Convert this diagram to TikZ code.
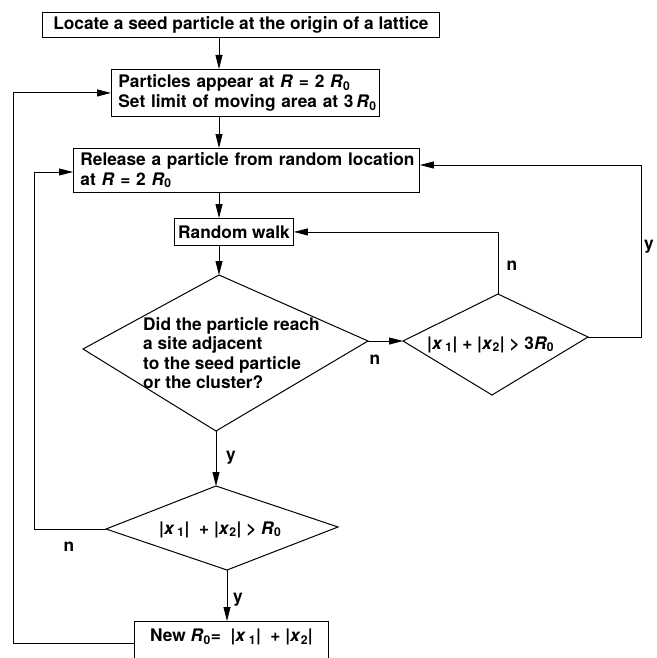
\documentclass[tikz,border=0pt]{standalone}
\usepackage{fontspec}
\setmainfont{TeX Gyre Heros}
\usetikzlibrary{arrows.meta}
\begin{document}
\begin{tikzpicture}[x=1pt,y=-1pt,
  every node/.style={font=\fontsize{17.3}{19.5}\selectfont\bfseries, inner sep=0pt},
  box/.style={draw, line width=0.9pt, anchor=north west},
  dia/.style={draw, line width=1pt, line join=miter},
  conn/.style={line width=0.9pt},
  arr/.style={conn, -{Triangle[length=14pt,width=7pt]}},
  lbl/.style={inner sep=0pt}]
\clip (0,0) rectangle (656,658);
\fill[white] (0,0) rectangle (656,658);
% boxes
\node[box, minimum width=397pt, minimum height=25pt] (b1) at (42,12)
  {Locate a seed particle at the origin of a lattice};
\node[box, minimum width=268pt, minimum height=47pt, text width=254pt, align=left] (b2) at (111,69)
  {\mbox{Particles appear at \textit{R} = 2 \textit{R}\textsubscript{0}}\\
   \mbox{Set limit of moving area at 3\,\textit{R}\textsubscript{0}}};
\node[box, minimum width=346pt, minimum height=44pt, text width=332pt, align=left] (b3) at (73,148)
  {\mbox{Release a particle from random location}\\
   \mbox{at \textit{R} = 2 \textit{R}\textsubscript{0}}};
\node[box, minimum width=119pt, minimum height=27pt] (rw) at (174,218) {Random walk};
\node[box, minimum width=194pt, text height=15pt, text depth=25pt, inner ysep=5pt] (new) at (134,621)
  {New \textit{R}\textsubscript{0}= \ |\textit{x}\,\textsubscript{1}|\ \ + |\textit{x}\textsubscript{2}|};
% diamond 1
\coordinate (d1t) at (219,275); \coordinate (d1r) at (368,341);
\coordinate (d1b) at (216,431); \coordinate (d1l) at (83,349);
\draw[dia] (d1t) -- (d1r) -- (d1b) -- (d1l) -- cycle;
\node[align=left, anchor=north west] (d1) at (143,317)
  {Did the particle reach\\a site adjacent\\to the seed particle\\or the cluster?};
% diamond 2
\coordinate (d2t) at (498,294); \coordinate (d2r) at (588,337);
\coordinate (d2b) at (492,395); \coordinate (d2l) at (403,341);
\draw[dia] (d2t) -- (d2r) -- (d2b) -- (d2l) -- cycle;
\node[anchor=base west] (d2) at (427,349)
  {|\textit{x}\,\textsubscript{1}|\ + |\textit{x}\textsubscript{2}| > 3\textit{R}\textsubscript{0}};
% diamond 3
\coordinate (d3t) at (216,486); \coordinate (d3r) at (338,527);
\coordinate (d3b) at (227,570); \coordinate (d3l) at (106,529);
\draw[dia] (d3t) -- (d3r) -- (d3b) -- (d3l) -- cycle;
\node[anchor=base west] (d3) at (159,534)
  {|\textit{x}\,\textsubscript{1}|\ \ + |\textit{x}\textsubscript{2}| > \textit{R}\textsubscript{0}};
% helper coordinates
\coordinate (ry) at (641,165);
\coordinate (lx) at (34,172);
\coordinate (oy) at (13,643);
% connectors
\draw[arr] (b1.south -| d1t) -- (b2.north -| d1t);
\draw[arr] (b2.south -| d1t) -- (b3.north -| d1t);
\draw[arr] (b3.south -| d1t) -- (rw.north -| d1t);
\draw[arr] (rw.south -| d1t) -- (d1t);
\draw[arr] (d1r) -- (d2l);
\draw[arr] (d2t) |- (rw.east);
\draw[arr] (d2r) -| (ry) -- (ry -| b3.east);
\draw[arr] (d1b) -- (d3t);
\draw[arr] (d3l) -| (lx) -- (lx -| b3.west);
\draw[arr] (d3b) -- (new.north -| d3b);
\draw[arr] (oy -| new.west) -- (oy) |- (b2.west);
% labels
\node[lbl] (ln1) at (375,360) {n};
\node[lbl] (ln2) at (512,266) {n};
\node[lbl] (ly1) at (649,247) {y};
\node[lbl] (ly2) at (231,458) {y};
\node[lbl] (ln3) at (69,547) {n};
\node[lbl] (ly3) at (238,600) {y};
\end{tikzpicture}
\end{document}
